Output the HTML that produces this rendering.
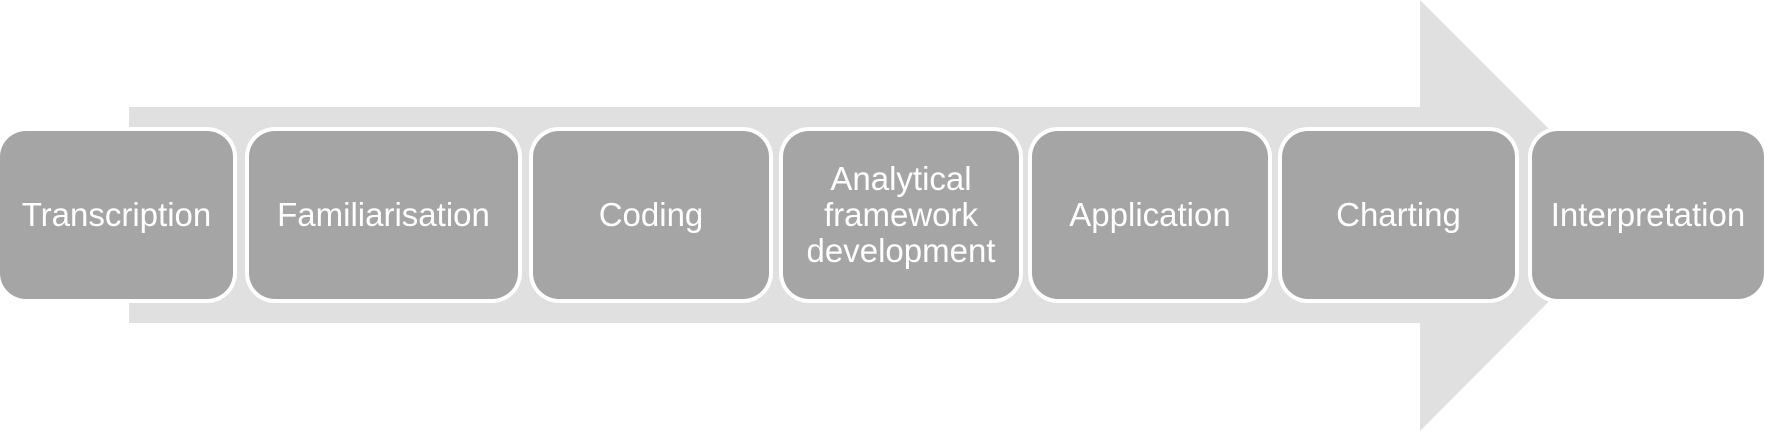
<!DOCTYPE html>
<html><head><style>
body{margin:0;width:1765px;height:431px;background:#fff;position:relative;overflow:hidden;font-family:"Liberation Sans",sans-serif}
.b{position:absolute;top:131px;height:168px;background:#a5a5a5;border-radius:26px;box-shadow:0 0 0 4px #fff;color:#fff;font-size:33px;display:flex;align-items:center;justify-content:center;text-align:center;line-height:36px}
</style></head><body>
<svg width="1765" height="431" style="position:absolute;left:0;top:0"><polygon points="129,107 1420,107 1420,0 1635,215 1420,431 1420,323 129,323" fill="#e0e0e0"/></svg>
<div class="b" style="left:0;width:233px">Transcription</div>
<div class="b" style="left:249px;width:269px">Familiarisation</div>
<div class="b" style="left:533px;width:236px">Coding</div>
<div class="b" style="left:783px;width:236px">Analytical<br>framework<br>development</div>
<div class="b" style="left:1032px;width:236px">Application</div>
<div class="b" style="left:1282px;width:233px">Charting</div>
<div class="b" style="left:1532px;width:232px">Interpretation</div>
</body></html>
